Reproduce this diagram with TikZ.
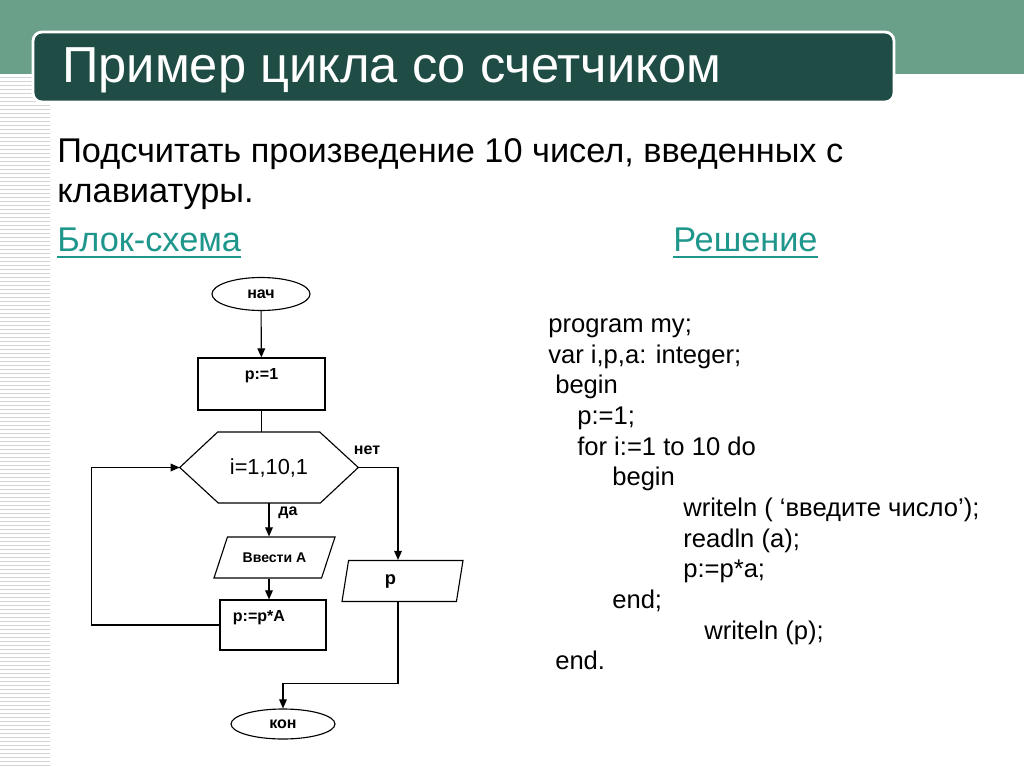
\documentclass[tikz,border=0pt]{standalone}
\usepackage{fontspec}
\setmainfont{Liberation Sans}
\usetikzlibrary{shapes.geometric,arrows.meta}

\definecolor{bandgreen}{RGB}{106,159,137}
\definecolor{titlegreen}{RGB}{31,77,69}
\definecolor{headteal}{RGB}{30,150,140}
\definecolor{stripegray}{RGB}{212,212,212}

\newcommand{\pxu}{0.025cm}

\tikzset{
	txt/.style={anchor=base west,inner sep=0pt},
	code/.style={txt,font=\fontsize{18.2}{22}\selectfont},
	lbl/.style={font=\bfseries\fontsize{11.4}{13}\selectfont},
	term/.style={ellipse,draw,line width=0.8pt,minimum width=98*\pxu,minimum height=33*\pxu,lbl},
	proc/.style={rectangle,draw,line width=0.8pt,minimum width=127*\pxu,minimum height=52*\pxu},
	io/.style={trapezium,trapezium left angle=55,trapezium right angle=125,draw,line width=0.8pt,
		minimum width=121*\pxu,minimum height=41*\pxu,trapezium stretches body},
	conn/.style={line width=0.8pt},
	arr/.style={conn,-{Triangle[length=6.5pt,width=5.5pt]}}
}

\begin{document}
\begin{tikzpicture}[x=\pxu,y=-\pxu]
	\useasboundingbox (0,0) rectangle (1024,767);
	
	% background
	\fill[bandgreen] (0,0) rectangle (1024,74);
	\foreach \y in {77,81,...,765}
		\draw[stripegray,line width=0.6pt] (0,\y) -- (50,\y);
	\draw[white,line width=2pt,fill=titlegreen,rounded corners=9*\pxu] (33,32) rectangle (894,102);
	
	\node[txt,white,font=\fontsize{36}{40}\selectfont] (title) at (62,83) {Пример цикла со счетчиком};
	\node[txt,font=\fontsize{24.4}{28}\selectfont] (task1) at (57,163) {Подсчитать произведение 10 чисел, введенных с};
	\node[txt,font=\fontsize{24.4}{28}\selectfont] (task2) at (57,203) {клавиатуры.};
	\node[txt,headteal,font=\fontsize{24.4}{28}\selectfont] (head1) at (57,251) {Блок-схема};
	\node[txt,headteal,font=\fontsize{24.4}{28}\selectfont] (head2) at (673,251) {Решение};
	\draw[headteal,line width=1.4pt] ([yshift=-4.6pt]head1.base west) -- ([yshift=-4.6pt]head1.base east);
	\draw[headteal,line width=1.4pt] ([yshift=-4.6pt]head2.base west) -- ([yshift=-4.6pt]head2.base east);
	
	% flowchart
	\node[term] (start) at (261,294) {нач};
	\node[proc,label={[lbl,yshift=5.7pt]center:{p:=1}}] (init) at (261.5,384) {};
	\node[minimum width=178*\pxu,minimum height=71*\pxu,font=\fontsize{15.5}{18}\selectfont] (cyc) at (269,467.5) {i=1,10,1};
	\draw[conn] (cyc.west) -- ++(38,-35.5) -- ++(102,0) -- (cyc.east) -- ++(-38,35.5) -- ++(-102,0) -- cycle;
	\node[io,font=\bfseries\fontsize{10}{12}\selectfont] (inp) at (274.5,557.5) {Ввести А};
	\node[proc,minimum width=106*\pxu,minimum height=50*\pxu,label={[lbl,xshift=-10pt,yshift=5pt]center:{p:=p*A}}] (mult) at (273,625) {};
	\node[io,label={[font=\bfseries\fontsize{13}{15}\selectfont,xshift=-8.5pt]center:{p}}] (outp) at (402.5,581) {};
	\node[term,minimum width=104*\pxu,minimum height=30*\pxu] (stop) at (283,724) {кон};
	
	\node[lbl] (no) at (367,450) {нет};
	\node[lbl] (yes) at (288,513) {да};
	
	\draw[arr] (start) -- (init);
	\draw[conn] (init.south) -- (init.south |- cyc.north);
	\draw[arr] (cyc.south) -- (cyc.south |- inp.north);
	\draw[arr] (inp.south -| cyc.south) -- (mult.north -| cyc.south);
	\draw[arr] (mult.west) -- ++(-128,0) |- (cyc.west);
	\draw[arr] (cyc.east) -| ([xshift=-4.5*\pxu]outp.north);
	\draw[arr] ([xshift=-4.5*\pxu]outp.south) -- ++(0,81) -| (stop.north);
	
	% program text
	\node[code] (l1) at (548,332) {program my;};
	\node[code] (l2) at (548,363) {var i,p,a: integer;};
	\node[code] (l3) at (555,393) {begin};
	\node[code] (l4) at (577,424) {p:=1;};
	\node[code] (l5) at (577,455) {for i:=1 to 10 do};
	\node[code] (l6) at (612,485) {begin};
	\node[code] (l7) at (683,516) {writeln ( ‘введите число’);};
	\node[code] (l8) at (683,547) {readln (a);};
	\node[code] (l9) at (683,577) {p:=p*a;};
	\node[code] (l10) at (612,608) {end;};
	\node[code] (l11) at (704,639) {writeln (p);};
	\node[code] (l12) at (555,669) {end.};
\end{tikzpicture}
\end{document}
